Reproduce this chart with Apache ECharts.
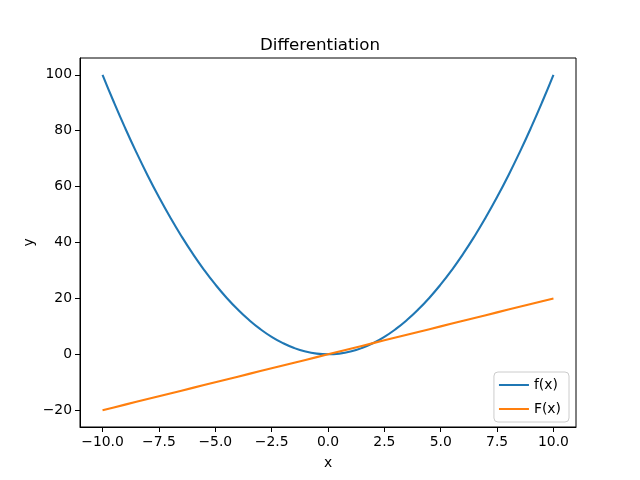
<!DOCTYPE html>
<html><head><meta charset="utf-8">
<script src="https://cdn.jsdelivr.net/npm/echarts@6/dist/echarts.min.js"></script>
<style>html,body{margin:0;padding:0;background:#fff}#c{width:640px;height:480px}</style>
</head><body><div id="c"></div>
<script>
const xValues = [-10,-9.5,-9,-8.5,-8,-7.5,-7,-6.5,-6,-5.5,-5,-4.5,-4,-3.5,-3,-2.5,-2,-1.5,-1,-0.5,0,0.5,1,1.5,2,2.5,3,3.5,4,4.5,5,5.5,6,6.5,7,7.5,8,8.5,9,9.5,10];
const fValues = [100,90.25,81,72.25,64,56.25,49,42.25,36,30.25,25,20.25,16,12.25,9,6.25,4,2.25,1,0.25,0,0.25,1,2.25,4,6.25,9,12.25,16,20.25,25,30.25,36,42.25,49,56.25,64,72.25,81,90.25,100];
const FValues = [-20,-19,-18,-17,-16,-15,-14,-13,-12,-11,-10,-9,-8,-7,-6,-5,-4,-3,-2,-1,0,1,2,3,4,5,6,7,8,9,10,11,12,13,14,15,16,17,18,19,20];
const xTicks = [-10,-7.5,-5,-2.5,0,2.5,5,7.5,10];
const yTicks = [-20,0,20,40,60,80,100];
const seriesNames = ['f(x)','F(x)'];
const titleText = 'Differentiation';

const font = 'DejaVu Sans';
const fmt = (v, d) => { const s = Math.abs(v).toFixed(d); return v < 0 ? '\u2212' + s : s; };
const chart = echarts.init(document.getElementById('c'), null, {renderer:'canvas'});
chart.setOption({
  animation:false,
  backgroundColor:'#fff',
  title:{text:titleText,left:'center',top:32,textStyle:{fontFamily:font,fontSize:16.7,fontWeight:'normal',color:'#000'}},
  grid:{left:80,top:58,width:496,height:369,show:true,borderColor:'#000',borderWidth:1,containLabel:false},
  legend:{
    orient:'vertical',right:71,bottom:58,
    data:seriesNames,
    icon:'rect',itemWidth:30,itemHeight:2,itemGap:10,
    textStyle:{fontFamily:font,fontSize:13.9,color:'#000'},
    backgroundColor:'rgba(255,255,255,0.8)',borderColor:'#cccccc',borderWidth:1,borderRadius:4,
    padding:[6,8,6,5]
  },
  xAxis:{type:'value',min:-11,max:11,name:'x',nameLocation:'middle',nameGap:29,nameMoveOverlap:false,
    nameTextStyle:{fontFamily:font,fontSize:13.9,color:'#000'},
    axisLine:{show:true,onZero:false,lineStyle:{color:'#000',width:1}},
    axisTick:{show:true,inside:false,length:5,customValues:xTicks,lineStyle:{color:'#000'}},
    axisLabel:{customValues:xTicks,formatter:v=>fmt(v,1),fontFamily:font,fontSize:13.9,color:'#000',margin:8,showMinLabel:true,showMaxLabel:true},
    splitLine:{show:false}},
  yAxis:{type:'value',min:-26,max:106,name:'y',nameLocation:'middle',nameGap:44,nameMoveOverlap:false,
    nameTextStyle:{fontFamily:font,fontSize:13.9,color:'#000'},
    axisLine:{show:true,onZero:false,lineStyle:{color:'#000',width:1}},
    axisTick:{show:true,inside:false,length:5,customValues:yTicks,lineStyle:{color:'#000'}},
    axisLabel:{customValues:yTicks,formatter:v=>fmt(v,0),fontFamily:font,fontSize:13.9,color:'#000',margin:8},
    splitLine:{show:false}},
  series:[
    {name:seriesNames[0],type:'line',data:xValues.map((x,i)=>[x,fValues[i]]),showSymbol:false,smooth:true,lineStyle:{color:'#1f77b4',width:2.1},itemStyle:{color:'#1f77b4'}},
    {name:seriesNames[1],type:'line',data:xValues.map((x,i)=>[x,FValues[i]]),showSymbol:false,lineStyle:{color:'#ff7f0e',width:2.1},itemStyle:{color:'#ff7f0e'}}
  ]
});
</script></body></html>
